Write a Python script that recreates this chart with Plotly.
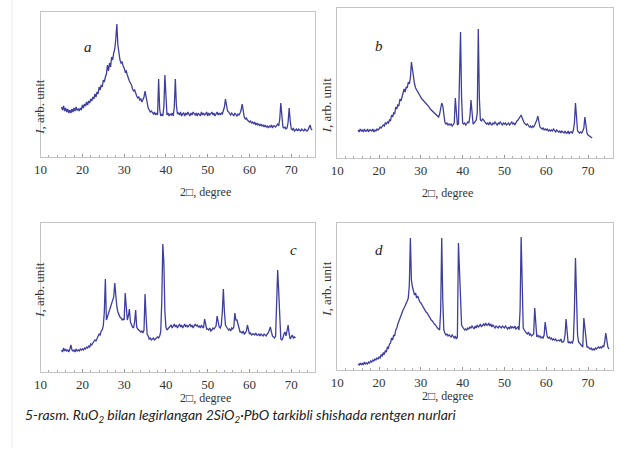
import numpy as np
import plotly.graph_objects as go

# 2-theta sampling grids (degrees)
x_a = [round(v, 2) for v in np.arange(15, 75.001, 0.25)]
x_b = [round(v, 2) for v in np.arange(15, 71.001, 0.25)]
x_c = [round(v, 2) for v in np.arange(15, 71.001, 0.25)]
x_d = [round(v, 2) for v in np.arange(15, 75.001, 0.25)]

# intensities (arb. units)
y_a = [50, 47, 51, 46, 49, 45, 48, 44, 47, 44, 48, 45, 49, 46, 50, 47, 48, 46, 49, 47,
       52, 49, 53, 51, 55, 52, 56, 54, 58, 56, 60, 58, 63, 60, 65, 63, 70, 67, 72, 70,
       77, 75, 80, 83, 92, 86, 94, 90, 100, 97, 104, 108, 118, 133, 112, 104,
       97, 94, 95, 91, 89, 85, 86, 82, 78, 76, 74, 72, 68, 66, 67, 63, 61, 59, 60, 57,
       58, 55, 57, 60, 66, 60, 52, 49, 47, 45, 46, 44, 43, 45, 42, 44,
       42, 78, 48, 41, 43, 41, 50, 82, 55, 42, 44, 41, 43, 42, 44, 41, 50, 78, 52, 43,
       44, 42, 45, 41, 43, 44, 41, 44, 42, 45, 43, 41, 44, 42, 45, 43, 42, 44, 41, 44,
       43, 41, 45, 42, 44, 42, 43, 45, 41, 44, 42, 43, 45, 42, 44, 41, 43, 45, 42, 44,
       42, 44, 43, 47, 50, 58, 52, 46, 45, 44, 42, 44, 43, 41, 44, 42, 41, 43, 42, 44,
       47, 53, 45, 40, 38, 39, 37, 36, 35, 36, 34, 35, 33, 35, 32, 34, 32, 33, 31, 33,
       31, 32, 30, 32, 30, 31, 29, 31, 30, 32, 29, 31, 31, 30, 32, 33, 31, 38, 54, 40,
       30, 29, 30, 28, 29, 35, 49, 36, 28, 27, 29, 26, 27, 28, 26, 28, 27, 26, 28, 27,
       26, 28, 27, 26, 27, 29, 32, 28, 27]

y_b = [28, 26, 29, 27, 28, 26, 29, 27, 27, 29, 26, 28, 28, 27, 29, 26, 28, 27, 29, 28,
       29, 31, 30, 32, 33, 32, 35, 34, 36, 35, 38, 37, 43, 41, 45, 44, 51, 49, 53, 52,
       59, 57, 61, 63, 69, 66, 71, 70, 76, 74, 80, 96, 88, 78, 74, 70, 68, 66, 64, 62,
       61, 59, 58, 57, 56, 54, 53, 52, 51, 49, 48, 47, 46, 45, 44, 43, 43, 41, 44, 50,
       55, 52, 42, 36, 34, 35, 33, 34, 33, 34, 32, 34, 35, 60, 40, 33,
       34, 86, 126, 60, 35, 34, 35, 33, 34, 36, 35, 42, 58, 40, 34, 35,
       36, 38, 45, 129, 60, 38, 37, 39, 38, 36, 35, 34, 35, 33, 36, 34, 33, 35, 34, 36,
       34, 33, 35, 34, 36, 34, 33, 35, 34, 35, 33, 34, 35, 33, 34, 36, 34, 35, 33, 36,
       37, 38, 40, 42, 43, 40, 37, 35, 34, 33, 34, 32, 31, 32, 30, 32, 31, 33, 35, 38,
       42, 36, 31, 30, 29, 30, 28, 29, 28, 29, 27, 28, 27, 28, 27, 29, 28, 26, 28, 27,
       26, 27, 25, 27, 26, 25, 27, 25, 25, 27, 24, 26, 26, 25, 28, 35, 55, 38, 27, 26,
       25, 26, 25, 27, 30, 41, 32, 25, 23, 22, 21, 20, 20]

y_c = [22, 20, 24, 21, 23, 21, 22, 20, 23, 27, 22, 21, 22, 20, 23, 21, 22, 21, 23, 22,
       23, 22, 24, 23, 25, 24, 26, 25, 28, 27, 29, 30, 32, 31, 34, 35, 38, 37, 41, 42,
       46, 60, 93, 52, 55, 58, 62, 66, 68, 70, 75, 89, 75, 65, 60, 57, 55, 54, 52, 53,
       52, 79, 60, 52, 56, 63, 50, 47, 45, 44, 50, 62, 45, 43, 42, 41, 40, 41, 39, 42,
       78, 55, 38, 36, 33, 34, 32, 33, 34, 32, 33, 35, 35, 34, 36, 40,
       70, 128, 110, 60, 45, 42, 43, 45, 45, 47, 44, 46, 48, 45, 47, 44,
       46, 48, 45, 47, 44, 46, 48, 45, 47, 45, 46, 48, 45, 47, 44, 46, 48, 46, 47, 45,
       46, 44, 47, 45, 44, 53, 48, 43, 43, 42, 44, 41, 42, 44, 43, 45, 46, 56, 48, 45,
       44, 47, 60, 83, 60, 47, 45, 43, 42, 43, 41, 44, 43, 45, 59, 52, 52, 48, 42, 40,
       40, 39, 41, 38, 39, 41, 47, 42, 38, 39, 37, 38, 38, 37, 39, 37, 37, 38, 36, 38,
       37, 36, 38, 37, 36, 38, 39, 42, 45, 40, 36, 35, 34, 36, 70, 102, 80, 45, 33, 32,
       34, 38, 40, 36, 40, 47, 38, 33, 35, 37, 34, 35, 34]

y_d = [6, 5, 7, 5, 7, 5, 8, 6, 7, 6, 8, 7, 9, 8, 10, 9, 11, 10, 12, 11,
       13, 12, 15, 14, 17, 16, 19, 18, 23, 22, 26, 27, 32, 30, 35, 34, 40, 42, 46, 49,
       53, 55, 58, 60, 62, 64, 67, 69, 72, 85, 132, 90, 83, 78, 75, 77, 72, 74, 70, 68,
       67, 65, 63, 62, 60, 58, 57, 55, 53, 52, 50, 49, 47, 46, 45, 43, 42, 41, 40, 60,
       132, 70, 40, 37, 35, 36, 34, 35, 34, 33, 35, 33, 32, 34, 31, 33,
       127, 100, 70, 45, 43, 42, 40, 41, 40, 42, 41, 43, 42, 44, 43, 41,
       44, 42, 45, 43, 44, 46, 43, 45, 46, 44, 47, 45, 45, 47, 44, 46, 43, 45, 44, 42,
       44, 43, 42, 44, 43, 42, 44, 43, 42, 44, 43, 41, 43, 41, 44, 42, 43, 42, 44, 41,
       42, 43, 40, 60, 133, 70, 42, 40, 38, 37, 36, 38, 35, 36, 34, 35, 36, 62, 45, 33,
       35, 33, 34, 32, 33, 32, 35, 48, 40, 33, 32, 33, 31, 32, 30, 31, 30, 31, 29, 30,
       30, 29, 31, 28, 28, 29, 35, 51, 35, 27, 28, 27, 28, 27, 30, 60, 112, 60, 35, 28,
       27, 25, 24, 23, 52, 40, 27, 23, 23, 22, 21, 22, 20, 21, 20, 22, 21, 22, 23, 22,
       23, 22, 24, 23, 28, 37, 28, 23, 21]

panel_letters = ["a", "b", "c", "d"]
x_tick_vals = [10, 20, 30, 40, 50, 60, 70]
x_title = "2\u25a1, degree"
y_title = "<i>I</i>, arb. unit"
caption = ("5-rasm. RuO<sub>2</sub> bilan legirlangan 2SiO<sub>2</sub>\u00b7PbO "
           "tarkibli shishada rentgen nurlari")

W, H = 621, 454


def px(x):
    return x / W


def py(y):
    return 1 - y / H


# panel boxes in pixels: (left, right, top, bottom), x-range, y-range
panels = [
    (34, 312, 12, 157, [10, 75.8], [0, 145]),
    (334, 613, 8, 158, [10, 76.0], [0, 150]),
    (34, 312, 223, 372, [10, 75.8], [0, 149]),
    (334, 613, 223, 370, [10, 76.0], [0, 147]),
]
series = [(x_a, y_a), (x_b, y_b), (x_c, y_c), (x_d, y_d)]

fig = go.Figure()
line_col = "#3e3ea0"
box_col = "#c4c4c4"
serif = "Liberation Serif, Times New Roman, serif"

layout = dict(
    width=W, height=H,
    margin=dict(l=0, r=0, t=0, b=0),
    paper_bgcolor="white", plot_bgcolor="white",
    showlegend=False,
)

annotations = []
for i, ((l, r, t, b, xr, yr), (xs, ys)) in enumerate(zip(panels, series)):
    n = "" if i == 0 else str(i + 1)
    fig.add_trace(go.Scatter(x=xs, y=ys, mode="lines",
                             line=dict(color=line_col, width=1.3),
                             xaxis="x" + n, yaxis="y" + n,
                             hoverinfo="skip"))
    layout["xaxis" + n] = dict(
        domain=[px(l), px(r)], anchor="y" + n, range=xr,
        tickvals=x_tick_vals, ticks="inside", ticklen=3, tickcolor="#999",
        minor=dict(dtick=2, ticks="inside", ticklen=2, tickcolor="#aaa"),
        showline=True, linecolor=box_col, linewidth=1, mirror=True,
        showgrid=False, zeroline=False,
        tickfont=dict(family=serif, size=13, color="#333"),
    )
    layout["yaxis" + n] = dict(
        domain=[py(b), py(t)], anchor="x" + n, range=yr,
        showticklabels=False, ticks="",
        showline=True, linecolor=box_col, linewidth=1, mirror=True,
        showgrid=False, zeroline=False,
    )
    # axis titles
    annotations.append(dict(x=px((l + r) / 2), y=py(b + 35), xref="paper", yref="paper",
                            text=x_title, showarrow=False,
                            font=dict(family=serif, size=12, color="#333")))
    annotations.append(dict(x=px(l - 11), y=py((t + b) / 2 - 8), xref="paper", yref="paper",
                            text=y_title, showarrow=False, textangle=-90,
                            font=dict(family=serif, size=13, color="#333")))

# panel letters
letter_pos = [(76, 37), (376, 36), (290, 250), (376, 250)]
for (lx, ly), letter in zip(letter_pos, panel_letters):
    annotations.append(dict(x=px(lx), y=py(ly), xref="paper", yref="paper",
                            text="<i>" + letter + "</i>", showarrow=False,
                            font=dict(family=serif, size=15, color="#222")))

# caption
annotations.append(dict(x=px(16), y=py(427), xref="paper", yref="paper",
                        xanchor="left", text="<i>" + caption + "</i>", showarrow=False,
                        font=dict(family="Lato, Open Sans, sans-serif", size=14,
                                  color="#222")))
layout["annotations"] = annotations

# faint page border on the left
layout["shapes"] = [dict(type="line", xref="paper", yref="paper",
                         x0=px(5), x1=px(5), y0=py(448), y1=1,
                         line=dict(color="#ececec", width=1))]

fig.update_layout(**layout)
fig.write_html("out.html")
